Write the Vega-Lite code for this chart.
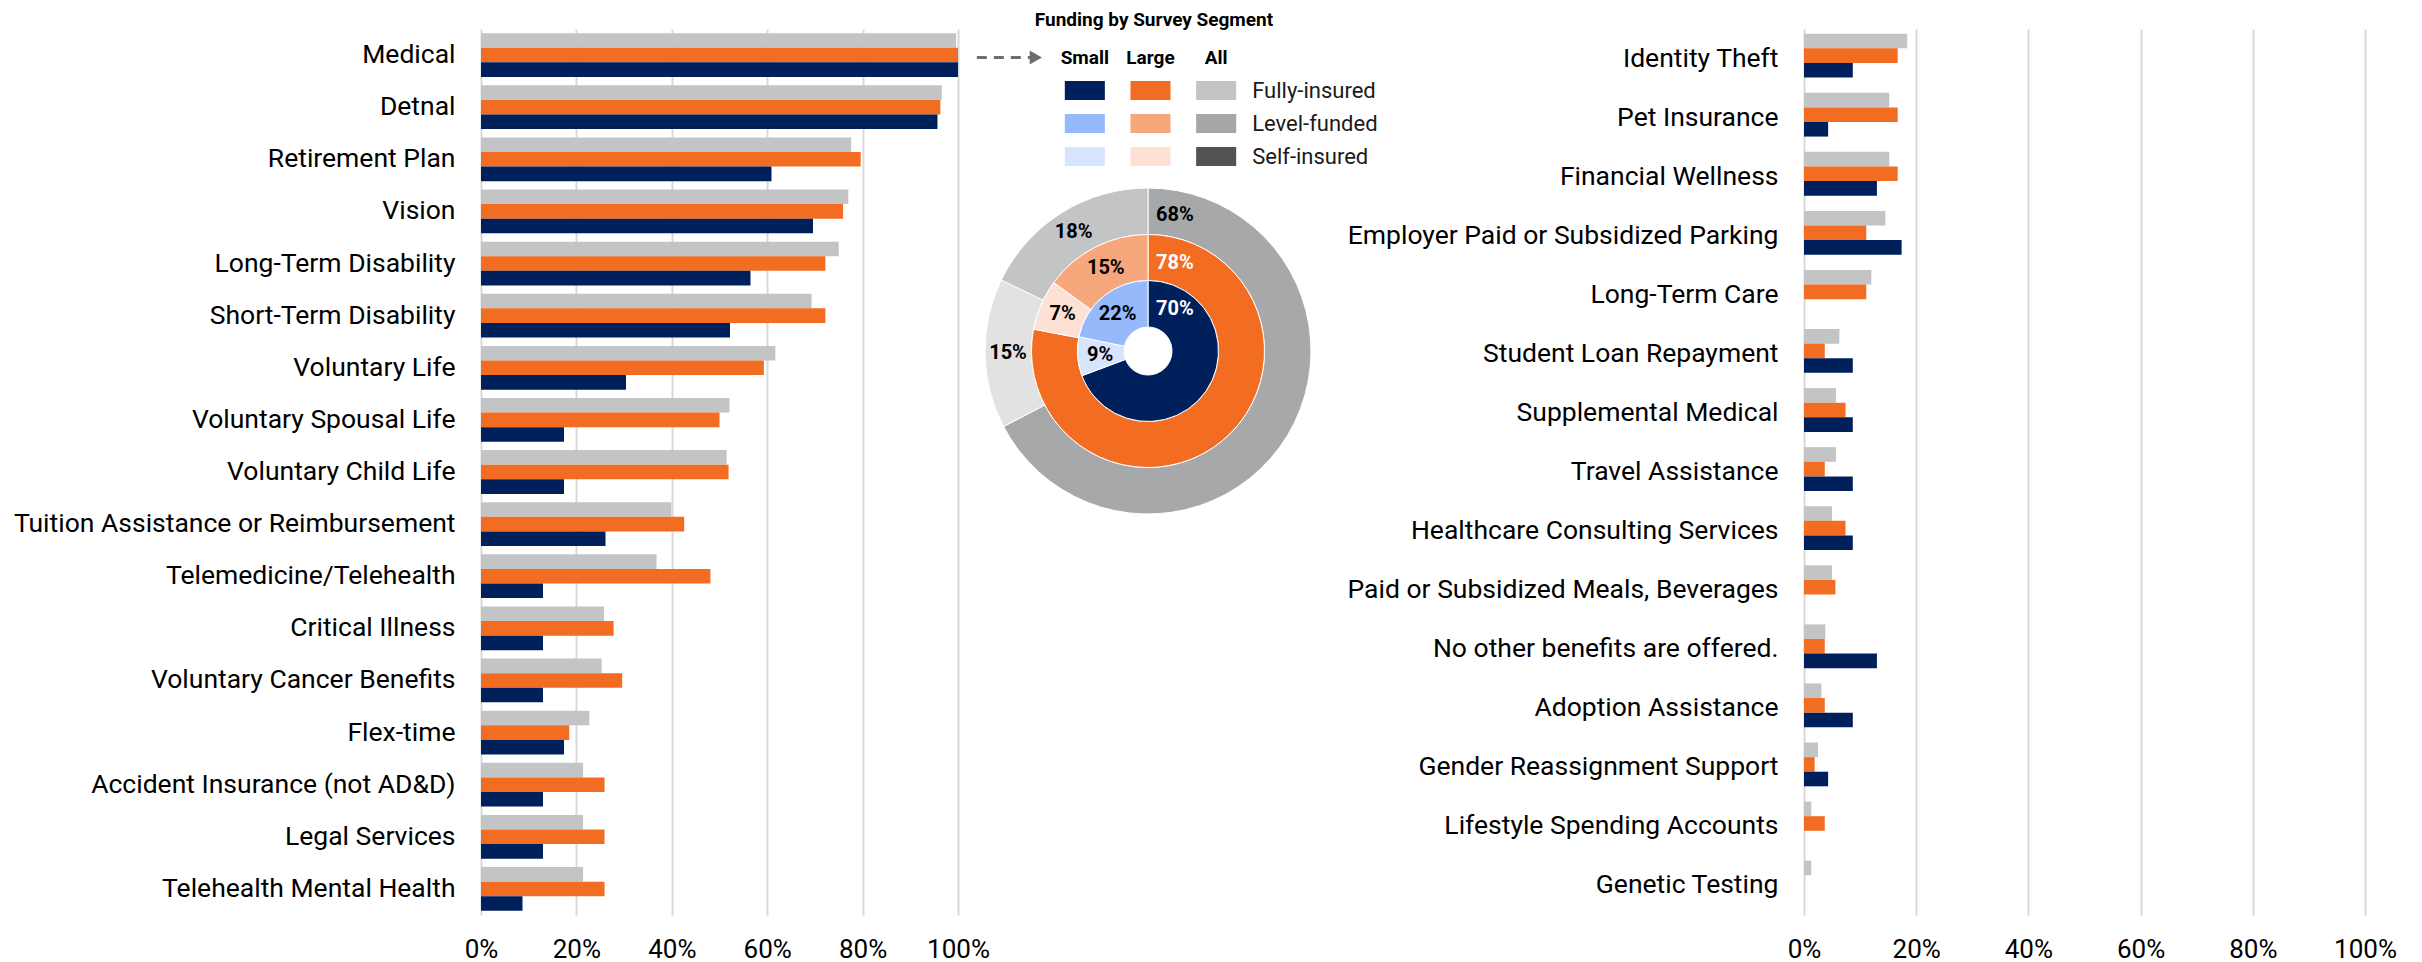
{
  "$schema": "https://vega.github.io/schema/vega-lite/v6.json",
  "background": "white",
  "padding": {"left": 13, "top": 11, "right": 5, "bottom": 0},
  "bounds": "flush",
  "spacing": 0,
  "config": {"font": "Roboto", "view": {"stroke": null}},
  "datasets": {
    "left": [
      {"benefit": "Medical", "All": 0.996, "Large": 1.0, "Small": 1.0},
      {"benefit": "Detnal", "All": 0.966, "Large": 0.963, "Small": 0.957},
      {"benefit": "Retirement Plan", "All": 0.776, "Large": 0.796, "Small": 0.609},
      {"benefit": "Vision", "All": 0.770, "Large": 0.759, "Small": 0.696},
      {"benefit": "Long-Term Disability", "All": 0.750, "Large": 0.722, "Small": 0.565},
      {"benefit": "Short-Term Disability", "All": 0.693, "Large": 0.722, "Small": 0.522},
      {"benefit": "Voluntary Life", "All": 0.617, "Large": 0.593, "Small": 0.304},
      {"benefit": "Voluntary Spousal Life", "All": 0.521, "Large": 0.500, "Small": 0.174},
      {"benefit": "Voluntary Child Life", "All": 0.515, "Large": 0.519, "Small": 0.174},
      {"benefit": "Tuition Assistance or Reimbursement", "All": 0.399, "Large": 0.426, "Small": 0.261},
      {"benefit": "Telemedicine/Telehealth", "All": 0.368, "Large": 0.481, "Small": 0.130},
      {"benefit": "Critical Illness", "All": 0.258, "Large": 0.278, "Small": 0.130},
      {"benefit": "Voluntary Cancer Benefits", "All": 0.253, "Large": 0.296, "Small": 0.130},
      {"benefit": "Flex-time", "All": 0.227, "Large": 0.185, "Small": 0.174},
      {"benefit": "Accident Insurance (not AD&D)", "All": 0.214, "Large": 0.259, "Small": 0.130},
      {"benefit": "Legal Services", "All": 0.214, "Large": 0.259, "Small": 0.130},
      {"benefit": "Telehealth Mental Health", "All": 0.214, "Large": 0.259, "Small": 0.087}
    ],
    "right": [
      {"benefit": "Identity Theft", "All": 0.184, "Large": 0.167, "Small": 0.087},
      {"benefit": "Pet Insurance", "All": 0.152, "Large": 0.167, "Small": 0.043},
      {"benefit": "Financial Wellness", "All": 0.152, "Large": 0.167, "Small": 0.130},
      {"benefit": "Employer Paid or Subsidized Parking", "All": 0.145, "Large": 0.111, "Small": 0.174},
      {"benefit": "Long-Term Care", "All": 0.120, "Large": 0.111, "Small": 0},
      {"benefit": "Student Loan Repayment", "All": 0.063, "Large": 0.037, "Small": 0.087},
      {"benefit": "Supplemental Medical", "All": 0.057, "Large": 0.074, "Small": 0.087},
      {"benefit": "Travel Assistance", "All": 0.057, "Large": 0.037, "Small": 0.087},
      {"benefit": "Healthcare Consulting Services", "All": 0.050, "Large": 0.074, "Small": 0.087},
      {"benefit": "Paid or Subsidized Meals, Beverages", "All": 0.050, "Large": 0.056, "Small": 0},
      {"benefit": "No other benefits are offered.", "All": 0.038, "Large": 0.037, "Small": 0.130},
      {"benefit": "Adoption Assistance", "All": 0.031, "Large": 0.037, "Small": 0.087},
      {"benefit": "Gender Reassignment Support", "All": 0.025, "Large": 0.019, "Small": 0.043},
      {"benefit": "Lifestyle Spending Accounts", "All": 0.013, "Large": 0.037, "Small": 0},
      {"benefit": "Genetic Testing", "All": 0.013, "Large": 0, "Small": 0}
    ],
    "funding": [
      {"segment": "Small", "funding": "Fully-insured", "share": 0.70, "seq": 1},
      {"segment": "Small", "funding": "Self-insured", "share": 0.09, "seq": 2},
      {"segment": "Small", "funding": "Level-funded", "share": 0.22, "seq": 3},
      {"segment": "Large", "funding": "Fully-insured", "share": 0.78, "seq": 1},
      {"segment": "Large", "funding": "Self-insured", "share": 0.07, "seq": 2},
      {"segment": "Large", "funding": "Level-funded", "share": 0.15, "seq": 3},
      {"segment": "All", "funding": "Fully-insured", "share": 0.68, "seq": 1},
      {"segment": "All", "funding": "Self-insured", "share": 0.15, "seq": 2},
      {"segment": "All", "funding": "Level-funded", "share": 0.18, "seq": 3}
    ]
  },
  "hconcat": [
    {
      "width": 477,
      "height": 886,
      "data": {"name": "left"},
      "transform": [{"fold": ["All", "Large", "Small"], "as": ["segment", "pct"]}],
      "mark": {"type": "bar"},
      "encoding": {
        "y": {"field": "benefit", "type": "nominal", "sort": null, "title": null,
          "scale": {"paddingInner": 0.16, "paddingOuter": 0.08},
          "axis": {"labelFontSize": 26.5, "labelColor": "#000000", "labelPadding": 26, "ticks": false, "tickSize": 0, "domain": false, "labelLimit": 800}},
        "yOffset": {"field": "segment", "type": "nominal", "sort": ["All", "Large", "Small"]},
        "x": {"field": "pct", "type": "quantitative", "title": null,
          "scale": {"domain": [0, 1], "nice": false},
          "axis": {"values": [0, 0.2, 0.4, 0.6, 0.8, 1], "format": ".0%", "labelFontSize": 26, "labelColor": "#000000", "labelPadding": 21, "labelFlush": false, "ticks": false, "tickSize": 0, "domain": false, "grid": true, "gridColor": "#d9d9d9", "gridWidth": 2}},
        "color": {"field": "segment", "type": "nominal", "legend": null,
          "scale": {"domain": ["All", "Large", "Small"], "range": ["#c3c4c6", "#f26c22", "#00205b"]}}
      }
    },
    {
      "width": 380,
      "height": 644,
      "title": {"text": "Funding by Survey Segment", "fontSize": 19, "fontWeight": "bold", "color": "#000000", "anchor": "middle", "offset": -1, "dx": 6},
      "data": {"name": "funding"},
      "resolve": {"scale": {"color": "independent"}},
      "layer": [
        {
          "transform": [{"filter": "datum.segment === 'All'"}],
          "mark": {"type": "arc", "innerRadius": 116.5, "outerRadius": 163, "stroke": "#ffffff", "strokeWidth": 1},
          "encoding": {
            "theta": {"field": "share", "type": "quantitative", "stack": "normalize"},
            "order": {"field": "seq", "type": "quantitative"},
            "color": {"field": "funding", "type": "nominal", "legend": null,
              "scale": {"domain": ["Fully-insured", "Level-funded", "Self-insured"], "range": ["#a7a8aa", "#c3c4c6", "#e2e2e2"]}}
          }
        },
        {
          "transform": [{"filter": "datum.segment === 'Large'"}],
          "mark": {"type": "arc", "innerRadius": 70.5, "outerRadius": 116.5, "stroke": "#ffffff", "strokeWidth": 1},
          "encoding": {
            "theta": {"field": "share", "type": "quantitative", "stack": "normalize"},
            "order": {"field": "seq", "type": "quantitative"},
            "color": {"field": "funding", "type": "nominal", "legend": null,
              "scale": {"domain": ["Fully-insured", "Level-funded", "Self-insured"], "range": ["#f26c22", "#f6a77b", "#fde1d4"]}}
          }
        },
        {
          "transform": [{"filter": "datum.segment === 'Small'"}],
          "mark": {"type": "arc", "innerRadius": 24, "outerRadius": 70.5, "stroke": "#ffffff", "strokeWidth": 1},
          "encoding": {
            "theta": {"field": "share", "type": "quantitative", "stack": "normalize"},
            "order": {"field": "seq", "type": "quantitative"},
            "color": {"field": "funding", "type": "nominal", "legend": null,
              "scale": {"domain": ["Fully-insured", "Level-funded", "Self-insured"], "range": ["#00205b", "#96b9fc", "#d6e4fd"]}}
          }
        },
        {
          "transform": [{"filter": "datum.segment === 'All'"}],
          "mark": {"type": "text", "radius": 140, "fontSize": 20, "fontWeight": "bold", "color": "#000000"},
          "encoding": {
            "theta": {"field": "share", "type": "quantitative", "stack": "normalize"},
            "order": {"field": "seq", "type": "quantitative"},
            "text": {"field": "share", "type": "quantitative", "format": ".0%"},
            "opacity": {"condition": {"test": "datum.funding === 'Fully-insured'", "value": 0}, "value": 1}
          }
        },
        {
          "transform": [{"filter": "datum.segment === 'Large'"}],
          "mark": {"type": "text", "radius": 93, "fontSize": 20, "fontWeight": "bold", "color": "#000000"},
          "encoding": {
            "theta": {"field": "share", "type": "quantitative", "stack": "normalize"},
            "order": {"field": "seq", "type": "quantitative"},
            "text": {"field": "share", "type": "quantitative", "format": ".0%"},
            "opacity": {"condition": {"test": "datum.funding === 'Fully-insured'", "value": 0}, "value": 1}
          }
        },
        {
          "transform": [{"filter": "datum.segment === 'Small'"}],
          "mark": {"type": "text", "radius": 48, "fontSize": 20, "fontWeight": "bold", "color": "#000000"},
          "encoding": {
            "theta": {"field": "share", "type": "quantitative", "stack": "normalize"},
            "order": {"field": "seq", "type": "quantitative"},
            "text": {"field": "share", "type": "quantitative", "format": ".0%"},
            "opacity": {"condition": {"test": "datum.funding === 'Fully-insured'", "value": 0}, "value": 1}
          }
        },
        {
          "transform": [{"filter": "datum.segment === 'All' && datum.funding === 'Fully-insured'"}],
          "mark": {"type": "text", "radius": 136, "theta": 0, "align": "left", "dx": 8, "fontSize": 20, "fontWeight": "bold", "color": "#000000"},
          "encoding": {"text": {"field": "share", "type": "quantitative", "format": ".0%"}}
        },
        {
          "transform": [{"filter": "datum.segment === 'Large' && datum.funding === 'Fully-insured'"}],
          "mark": {"type": "text", "radius": 88, "theta": 0, "align": "left", "dx": 8, "fontSize": 20, "fontWeight": "bold", "color": "#ffffff"},
          "encoding": {"text": {"field": "share", "type": "quantitative", "format": ".0%"}}
        },
        {
          "transform": [{"filter": "datum.segment === 'Small' && datum.funding === 'Fully-insured'"}],
          "mark": {"type": "text", "radius": 42, "theta": 0, "align": "left", "dx": 8, "fontSize": 20, "fontWeight": "bold", "color": "#ffffff"},
          "encoding": {"text": {"field": "share", "type": "quantitative", "format": ".0%"}}
        },
        {
          "transform": [{"filter": "datum.segment === 'Small'"}],
          "mark": {"type": "rect"},
          "encoding": {
            "x": {"field": "segment", "type": "nominal", "axis": null, "scale": {"domain": ["Small", "Large", "All"], "range": [94, 291], "paddingInner": 0.39, "paddingOuter": 0.195}},
            "y": {"field": "funding", "type": "nominal", "axis": null, "scale": {"domain": ["header", "Fully-insured", "Level-funded", "Self-insured"], "range": [12, 144], "paddingInner": 0.42, "paddingOuter": 0.21}},
            "color": {"field": "funding", "type": "nominal", "legend": null,
              "scale": {"domain": ["Fully-insured", "Level-funded", "Self-insured"], "range": ["#00205b", "#96b9fc", "#d6e4fd"]}}
          }
        },
        {
          "transform": [{"filter": "datum.segment === 'Large'"}],
          "mark": {"type": "rect"},
          "encoding": {
            "x": {"field": "segment", "type": "nominal", "axis": null, "scale": {"domain": ["Small", "Large", "All"], "range": [94, 291], "paddingInner": 0.39, "paddingOuter": 0.195}},
            "y": {"field": "funding", "type": "nominal", "axis": null, "scale": {"domain": ["header", "Fully-insured", "Level-funded", "Self-insured"], "range": [12, 144], "paddingInner": 0.42, "paddingOuter": 0.21}},
            "color": {"field": "funding", "type": "nominal", "legend": null,
              "scale": {"domain": ["Fully-insured", "Level-funded", "Self-insured"], "range": ["#f26c22", "#f6a77b", "#fde1d4"]}}
          }
        },
        {
          "transform": [{"filter": "datum.segment === 'All'"}],
          "mark": {"type": "rect"},
          "encoding": {
            "x": {"field": "segment", "type": "nominal", "axis": null, "scale": {"domain": ["Small", "Large", "All"], "range": [94, 291], "paddingInner": 0.39, "paddingOuter": 0.195}},
            "y": {"field": "funding", "type": "nominal", "axis": null, "scale": {"domain": ["header", "Fully-insured", "Level-funded", "Self-insured"], "range": [12, 144], "paddingInner": 0.42, "paddingOuter": 0.21}},
            "color": {"field": "funding", "type": "nominal", "legend": null,
              "scale": {"domain": ["Fully-insured", "Level-funded", "Self-insured"], "range": ["#c3c4c6", "#a6a7a9", "#525355"]}}
          }
        },
        {
          "transform": [{"filter": "datum.segment === 'All'"}],
          "mark": {"type": "text", "align": "left", "dx": 36, "fontSize": 22, "color": "#1a1a1a"},
          "encoding": {
            "x": {"field": "segment", "type": "nominal", "axis": null},
            "y": {"field": "funding", "type": "nominal", "axis": null},
            "text": {"field": "funding", "type": "nominal"}
          }
        },
        {
          "transform": [{"filter": "datum.funding === 'Fully-insured'"}],
          "mark": {"type": "text", "fontSize": 19, "fontWeight": "bold", "color": "#000000"},
          "encoding": {
            "x": {"field": "segment", "type": "nominal", "axis": null},
            "y": {"datum": "header", "type": "nominal", "axis": null},
            "text": {"field": "segment", "type": "nominal"}
          }
        },
        {
          "transform": [{"filter": "datum.segment === 'Small' && datum.funding === 'Fully-insured'"}],
          "mark": {"type": "rule", "strokeDash": [10, 7], "strokeWidth": 3, "color": "#6d6e71", "xOffset": -108, "x2Offset": -54},
          "encoding": {
            "x": {"datum": "Small", "type": "nominal", "axis": null},
            "x2": {"datum": "Small"},
            "y": {"datum": "header", "type": "nominal", "axis": null}
          }
        },
        {
          "transform": [{"filter": "datum.segment === 'Small' && datum.funding === 'Fully-insured'"}],
          "mark": {"type": "point", "shape": "triangle-right", "filled": true, "size": 200, "opacity": 1, "color": "#6d6e71", "xOffset": -49},
          "encoding": {
            "x": {"datum": "Small", "type": "nominal", "axis": null},
            "y": {"datum": "header", "type": "nominal", "axis": null}
          }
        }
      ]
    },
    {
      "width": 466,
      "height": 10,
      "data": {"values": [{"s": 0}]},
      "mark": {"type": "point", "opacity": 0},
      "encoding": {}
    },
    {
      "width": 561,
      "height": 886,
      "data": {"name": "right"},
      "transform": [{"fold": ["All", "Large", "Small"], "as": ["segment", "pct"]}],
      "mark": {"type": "bar"},
      "encoding": {
        "y": {"field": "benefit", "type": "nominal", "sort": null, "title": null,
          "scale": {"paddingInner": 0.16, "paddingOuter": 0.08},
          "axis": {"labelFontSize": 26.5, "labelColor": "#000000", "labelPadding": 26, "ticks": false, "tickSize": 0, "domain": false, "labelLimit": 800}},
        "yOffset": {"field": "segment", "type": "nominal", "sort": ["All", "Large", "Small"]},
        "x": {"field": "pct", "type": "quantitative", "title": null,
          "scale": {"domain": [0, 1], "nice": false},
          "axis": {"values": [0, 0.2, 0.4, 0.6, 0.8, 1], "format": ".0%", "labelFontSize": 26, "labelColor": "#000000", "labelPadding": 21, "labelFlush": false, "ticks": false, "tickSize": 0, "domain": false, "grid": true, "gridColor": "#d9d9d9", "gridWidth": 2}},
        "color": {"field": "segment", "type": "nominal", "legend": null,
          "scale": {"domain": ["All", "Large", "Small"], "range": ["#c3c4c6", "#f26c22", "#00205b"]}}
      }
    }
  ]
}
